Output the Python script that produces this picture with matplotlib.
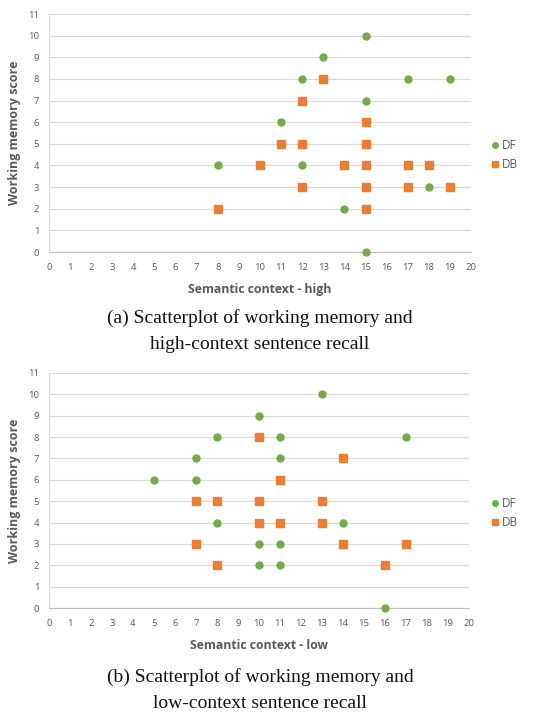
import matplotlib.pyplot as plt

# panel (a): high-context sentence recall
high_df_x = [15, 13, 12, 17, 19, 15, 11, 8, 12, 18, 14, 15]
high_df_y = [10, 9, 8, 8, 8, 7, 6, 4, 4, 3, 2, 0]
high_db_x = [13, 12, 15, 11, 12, 15, 10, 14, 15, 17, 18, 12, 15, 17, 19, 8, 15]
high_db_y = [8, 7, 6, 5, 5, 5, 4, 4, 4, 4, 4, 3, 3, 3, 3, 2, 2]

# panel (b): low-context sentence recall
low_df_x = [13, 10, 8, 11, 17, 7, 11, 5, 7, 8, 14, 10, 11, 10, 11, 16]
low_df_y = [10, 9, 8, 8, 8, 7, 7, 6, 6, 4, 4, 3, 3, 2, 2, 0]
low_db_x = [10, 14, 11, 7, 8, 10, 13, 10, 11, 13, 7, 14, 17, 8, 16]
low_db_y = [8, 7, 6, 5, 5, 5, 5, 4, 4, 4, 3, 3, 3, 2, 2]

x_ticks = list(range(0, 21))
y_ticks = list(range(0, 12))

W, H = 542, 716
GREEN = '#70AD47'
ORANGE = '#ED7D31'
TXT = '#595959'
GRID = '#D9D9D9'
SANS = 'Open Sans'
SERIF = 'Liberation Serif'

fig = plt.figure(figsize=(W / 100, H / 100), dpi=100)


def panel(left, right, top, bottom, df_x, df_y, db_x, db_y, xlabel, caption, leg_y):
    ax = fig.add_axes([left / W, 1 - bottom / H, (right - left) / W, (bottom - top) / H])
    ax.set_xlim(0, 20)
    ax.set_ylim(0, 11)
    ax.set_xticks(x_ticks)
    ax.set_yticks(y_ticks)
    ax.grid(axis='y', color=GRID, linewidth=0.8)
    ax.set_axisbelow(True)
    for s in ['top', 'right']:
        ax.spines[s].set_visible(False)
    ax.spines['left'].set_color(GRID)
    ax.spines['bottom'].set_color('#BFBFBF')
    ax.tick_params(length=0, labelsize=6.8, colors=TXT)
    ax.tick_params(axis='x', pad=8)
    ax.tick_params(axis='y', pad=7)
    for lab in ax.get_xticklabels() + ax.get_yticklabels():
        lab.set_family(SANS)
    h1, = ax.plot(df_x, df_y, 'o', color=GREEN, ms=5, label='DF', clip_on=False, zorder=3)
    h2, = ax.plot(db_x, db_y, 's', color=ORANGE, ms=5.5, label='DB', clip_on=False, zorder=3)
    ax.set_xlabel(xlabel, fontsize=8.8, fontweight='bold', color=TXT, family=SANS, labelpad=8)
    ax.set_ylabel('Working memory score', fontsize=9, fontweight='bold', color=TXT,
                  family=SANS, labelpad=5)
    fig.legend(handles=[h1, h2], loc='center left', bbox_to_anchor=(478 / W, 1 - leg_y / H),
               frameon=False, fontsize=8.5, handlelength=1, handletextpad=0.1,
               labelspacing=0.45, markerscale=0.8, labelcolor=TXT,
               prop={'family': SANS, 'size': 8.5})
    fig.text(260 / W, 1 - caption[1] / H, caption[0], ha='center', va='center',
             fontsize=14, family=SERIF, color='#111111', linespacing=1.65)
    return ax


panel(49, 471, 14, 252, high_df_x, high_df_y, high_db_x, high_db_y,
      'Semantic context - high',
      ('(a) Scatterplot of working memory and\nhigh-context sentence recall', 331), 155)
panel(49, 469, 373, 608, low_df_x, low_df_y, low_db_x, low_db_y,
      'Semantic context - low',
      ('(b) Scatterplot of working memory and\nlow-context sentence recall', 690), 513)

fig.savefig('out.png', dpi=100)
